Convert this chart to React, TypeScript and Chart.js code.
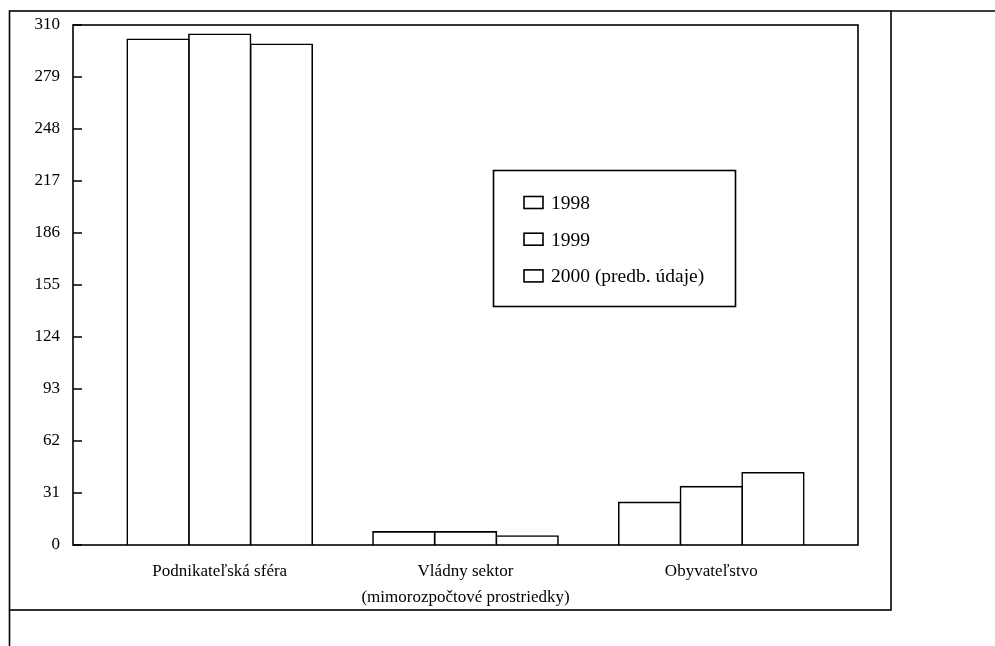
import React, { useEffect, useRef } from "react";
import { Chart, registerables } from "chart.js";

Chart.register(...registerables);

const categories: string[] = [
  "Podnikateľská sféra",
  "Vládny sektor\n(mimorozpočtové prostriedky)",
  "Obyvateľstvo",
];
const seriesLabels: string[] = ["1998", "1999", "2000 (predb. údaje)"];
const values1998: number[] = [301.5, 7.8, 25.4];
const values1999: number[] = [304.5, 7.8, 34.8];
const values2000: number[] = [298.5, 5.4, 43.1];
const yTicks: number[] = [0, 31, 62, 93, 124, 155, 186, 217, 248, 279, 310];

const FONT = "'Liberation Serif', 'Times New Roman', serif";

const framePlugin = {
  id: "framePlugin",
  afterDraw(chart: any) {
    const { ctx, chartArea } = chart;
    const { left, top, right, bottom } = chartArea;
    ctx.save();
    ctx.strokeStyle = "#000";
    ctx.lineWidth = 1.6;
    // outer frame
    ctx.strokeRect(9.5, 11, 881.5, 599);
    ctx.beginPath();
    ctx.moveTo(891, 11);
    ctx.lineTo(995, 11);
    ctx.moveTo(9.5, 610);
    ctx.lineTo(9.5, 646);
    ctx.stroke();
    // plot frame
    ctx.strokeRect(left, top, right - left, bottom - top);
    // inward y ticks
    const yScale = chart.scales.y;
    ctx.beginPath();
    yTicks.forEach((v) => {
      const py = yScale.getPixelForValue(v);
      ctx.moveTo(left, py);
      ctx.lineTo(left + 9, py);
    });
    ctx.stroke();
    // legend
    const lx = 493.5, ly = 170.5, lw = 242, lh = 136;
    ctx.fillStyle = "#fff";
    ctx.fillRect(lx, ly, lw, lh);
    ctx.strokeRect(lx, ly, lw, lh);
    ctx.font = `19.5px ${FONT}`;
    ctx.textBaseline = "alphabetic";
    ctx.textAlign = "left";
    chart.data.datasets.forEach((ds: any, i: number) => {
      const base = 209 + i * 36.7;
      ctx.fillStyle = "#fff";
      ctx.fillRect(524, base - 12.5, 19, 12);
      ctx.strokeRect(524, base - 12.5, 19, 12);
      ctx.fillStyle = "#000";
      ctx.fillText(ds.label, 551, base);
    });
    ctx.restore();
  },
};

function makeData(vals: number[]) {
  return categories.map((_, i) => ({ x: i, y: vals[i] }));
}

export default function App() {
  const ref = useRef<HTMLCanvasElement | null>(null);
  useEffect(() => {
    document.body.style.margin = "0";
    if (!ref.current) return;
    const seriesValues = [values1998, values1999, values2000];
    const chart = new Chart(ref.current, {
      type: "bar",
      data: {
        datasets: seriesLabels.map((label, i) => ({
          label,
          data: makeData(seriesValues[i]),
          backgroundColor: "#fff",
          borderColor: "#000",
          borderWidth: 1.6,
          inflateAmount: 0.8,
          barPercentage: 1,
          categoryPercentage: 0.753,
        })),
      },
      options: {
        animation: false,
        responsive: false,
        maintainAspectRatio: false,
        devicePixelRatio: 1,
        layout: { padding: { left: 0, top: 25, right: 137, bottom: 0 } },
        plugins: {
          legend: { display: false },
          tooltip: { enabled: false },
        },
        scales: {
          x: {
            type: "linear",
            offset: false,
            min: -0.597,
            max: 2.597,
            grid: { display: false, drawTicks: false, offset: false },
            border: { display: false },
            afterBuildTicks: (scale: any) => {
              scale.ticks = categories.map((_, i) => ({ value: i }));
            },
            afterFit: (scale: any) => {
              scale.height = 101;
            },
            ticks: {
              autoSkip: false,
              maxRotation: 0,
              minRotation: 0,
              padding: 14,
              color: "#000",
              font: { family: FONT, size: 17, lineHeight: 1.53 },
              callback: (v: any) => {
                const c = categories[Math.round(Number(v))];
                return c ? c.split("\n") : "";
              },
            },
          },
          y: {
            min: 0,
            max: 310,
            grid: { display: false, drawTicks: false },
            border: { display: false },
            afterBuildTicks: (scale: any) => {
              scale.ticks = yTicks.map((v) => ({ value: v }));
            },
            afterFit: (scale: any) => {
              scale.width = 73;
            },
            ticks: {
              padding: 13,
              color: "#000",
              font: { family: FONT, size: 17 },
            },
          },
        },
      },
      plugins: [framePlugin],
    } as any);
    return () => chart.destroy();
  }, []);
  return (
    <div style={{ width: 995, height: 646 }}>
      <canvas ref={ref} width={995} height={646} style={{ display: "block" }} />
    </div>
  );
}
